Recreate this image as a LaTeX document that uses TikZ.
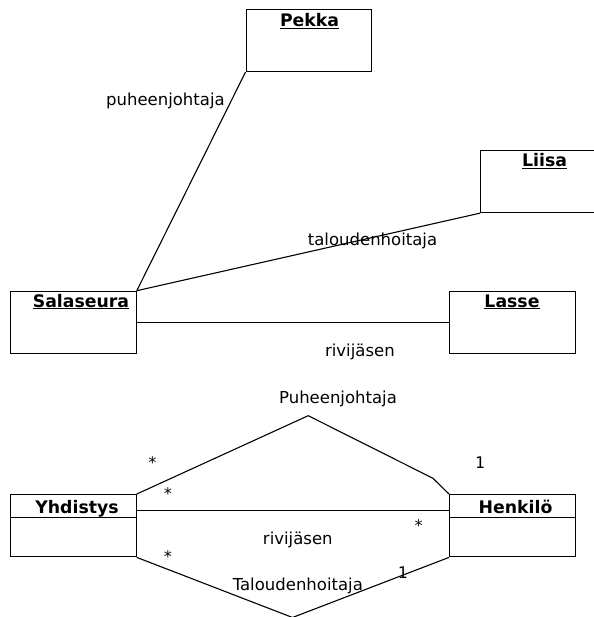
\documentclass[tikz,border=0pt]{standalone}
\usepackage{fontspec}
\setmainfont{DejaVu Sans}
\newfontfamily\multfont{DejaVu Sans Mono}
\usetikzlibrary{calc}

\tikzset{
  objbox/.style={draw, line width=1.1pt, rectangle, inner sep=0pt,
    minimum width=125.5pt, minimum height=62.3pt, anchor=north west},
  headbox/.style={draw, line width=1.1pt, rectangle, inner sep=0pt,
    minimum width=125.5pt, minimum height=23.3pt, anchor=north west},
  bodybox/.style={draw, line width=1.1pt, rectangle, inner sep=0pt,
    minimum width=125.5pt, minimum height=39pt, anchor=north west},
  title/.style={inner sep=0pt, anchor=base, font=\fontsize{17.3}{20}\selectfont\bfseries},
  rolelabel/.style={inner sep=0pt, anchor=base, font=\fontsize{16.5}{20}\selectfont},
  mult/.style={inner sep=0pt, anchor=base, font=\fontsize{16}{18}\selectfont\multfont},
  link/.style={line width=1.1pt}
}

\begin{document}
\begin{tikzpicture}[x=1pt, y=-1pt]
\useasboundingbox (0,0) rectangle (593,617);

% ---- object diagram ----
\node[objbox] (pekka) at (245.5,8.7) {};
\node[objbox] (liisa) at (480.3,149.7) {};
\node[objbox] (salaseura) at (10.2,290.7) {};
\node[objbox] (lasse) at (449,290.7) {};

\node[title] (pekkaT) at (309.6,26.7) {\underline{Pekka}};
\node[title] (liisaT) at (544.6,167) {\underline{Liisa}};
\node[title] (salaseuraT) at (81,307) {\underline{Salaseura}};
\node[title] (lasseT) at (512,307) {\underline{Lasse}};

\draw[link] (salaseura.north east) -- (pekka.south west);
\draw[link] (salaseura.north east) -- (liisa.south west);
\draw[link] (salaseura.east) -- (lasse.west);

\node[rolelabel] (lblPuh) at (165.4,106) {puheenjohtaja};
\node[rolelabel] (lblTal) at (372.5,245.3) {taloudenhoitaja};
\node[rolelabel] (lblRiv) at (359.9,356) {rivijäsen};

% ---- class diagram ----
\node[headbox] (yhdH) at (10.2,494) {};
\node[bodybox] (yhdB) at (10.2,517.3) {};
\node[headbox] (henH) at (449,494) {};
\node[bodybox] (henB) at (449,517.3) {};

\node[title] (yhdT) at (77,513) {Yhdistys};
\node[title] (henT) at (515.5,513) {Henkilö};

\coordinate (topPeak) at (308.2,415.7);
\coordinate (topBend) at (433,478.3);
\coordinate (botPeak) at (292.5,617.5);

\draw[link] (yhdH.north east) -- (topPeak) -- (topBend) -- (henH.north west);
\draw[link] ([yshift=-4pt]yhdH.east) -- ([yshift=-4pt]henH.east -| henH.west);
\draw[link] (yhdB.south east) -- (botPeak) -- (henB.south west);

\node[rolelabel] (lblPuh2) at (338,403.3) {Puheenjohtaja};
\node[rolelabel] (lblRiv2) at (297.8,544.3) {rivijäsen};
\node[rolelabel] (lblTal2) at (297.8,590.5) {Taloudenhoitaja};

\node[mult] (m1) at (152.4,468) {*};
\node[mult] (m2) at (168,499.7) {*};
\node[mult] (m3) at (480,468.3) {1};
\node[mult] (m4) at (418.7,531) {*};
\node[mult] (m5) at (168,562) {*};
\node[mult] (m6) at (402.8,578.5) {1};
\end{tikzpicture}
\end{document}
